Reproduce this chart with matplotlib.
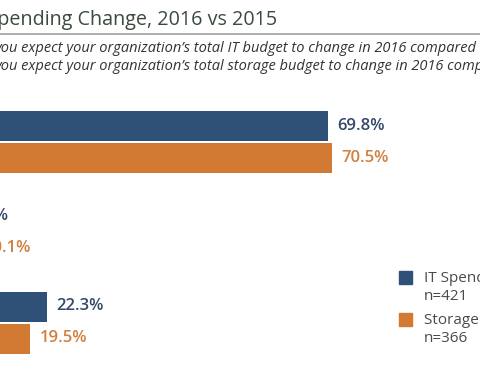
import matplotlib

matplotlib.use("Agg")
import matplotlib.pyplot as plt

# answers, top to bottom (middle group bars fall off the left edge of the crop)
it_values = [69.8, 7.9, 22.3]
storage_values = [70.5, 10.1, 19.5]
series_names = ["IT Spending", "Storage Spending"]
series_n = ["n=421", "n=366"]

title = "IT and Storage Spending Change, 2016 vs 2015"
questions = [
    "you expect your organization\u2019s total IT budget to change in 2016 compared to 2015?",
    "you expect your organization\u2019s total storage budget to change in 2016 compared to 2015?",
]

BLUE = "#2f5077"
ORANGE = "#d27a33"
W, H = 480, 376

plt.rcParams["font.family"] = ["Open Sans", "DejaVu Sans"]

fig = plt.figure(figsize=(W / 100, H / 100), dpi=100)
ax = fig.add_axes([0, 0, 1, 1])

px_per_pct = 5.916
zero_px = -84.9
ax.set_xlim(-zero_px / px_per_pct, (W - zero_px) / px_per_pct)
group_px = 90.25
ax.set_ylim((H - 142) / group_px, -142 / group_px)

bar_h = 30 / group_px
off = 16 / group_px
ys = range(len(it_values))
ax.barh([y - off for y in ys], it_values, height=bar_h, color=BLUE)
ax.barh([y + off for y in ys], storage_values, height=bar_h, color=ORANGE)

gap = 9 / px_per_pct
for y, v in zip(ys, it_values):
    ax.text(v + gap, y - off, f"{v:.1f}%", color="#34496a", fontsize=12,
            fontweight="semibold", va="center", ha="left")
for y, v in zip(ys, storage_values):
    ax.text(v + gap, y + off, f"{v:.1f}%", color="#d08040", fontsize=12,
            fontweight="semibold", va="center", ha="left")
ax.axis("off")

# header: title, rule, question lines
fig.text(277 / W, 1 - 20 / H, title, ha="right", va="center", fontsize=14.2,
         color="#3b4a3d")
fig.add_artist(plt.Line2D([0, 1], [1 - 33.5 / H] * 2, color="#a0a0a0", lw=1.2,
                          transform=fig.transFigure))
for i, q in enumerate(questions):
    fig.text(-6 / W, 1 - (48 + 18 * i) / H, q, ha="left", va="center",
             fontsize=10.5, style="italic", color="#333333")

# legend
for i, (name, n, c) in enumerate(zip(series_names, series_n, [BLUE, ORANGE])):
    top = 271 + 42 * i
    fig.patches.append(plt.Rectangle((399 / W, 1 - (top + 13) / H), 13 / W, 13 / H,
                                     color=c, transform=fig.transFigure))
    fig.text(424 / W, 1 - (top + 7) / H, name, ha="left", va="center",
             fontsize=11, color="#4a4a4a")
    fig.text(424 / W, 1 - (top + 26) / H, n, ha="left", va="center",
             fontsize=11, color="#4a4a4a")

fig.savefig("out.png", dpi=100)
